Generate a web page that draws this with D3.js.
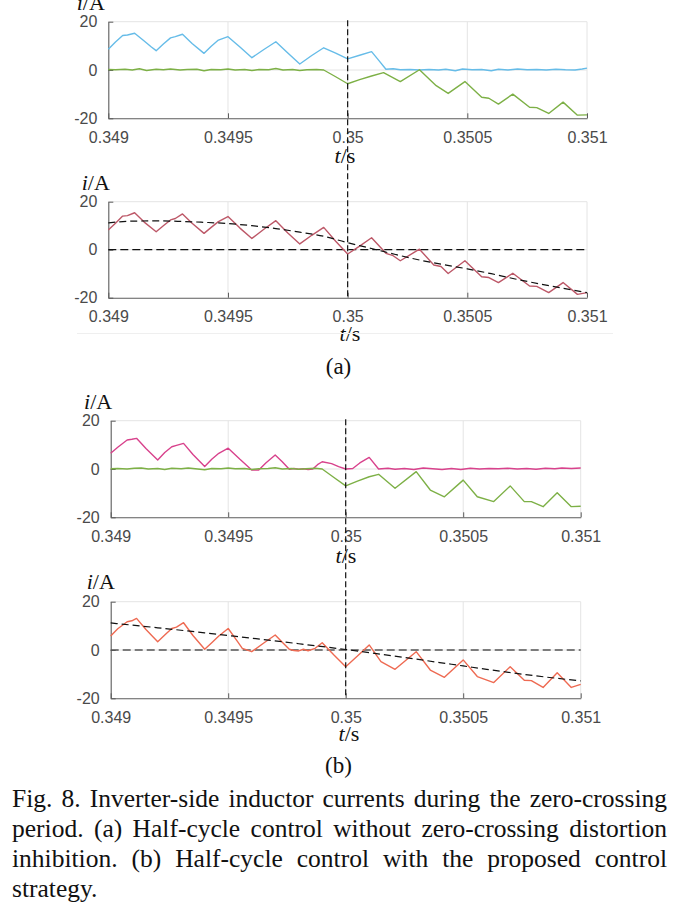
<!DOCTYPE html>
<html>
<head>
<meta charset="utf-8">
<script src="https://cdn.jsdelivr.net/npm/d3@7"></script>
<style>
html,body{margin:0;padding:0;background:#fff;}
svg{display:block;}
</style>
</head>
<body>
<svg id="chart" width="685" height="911"></svg>
<script>
// ---------- data ----------
const xTicks = [0.349, 0.3495, 0.35, 0.3505, 0.351];
const xTickLabels = ["0.349", "0.3495", "0.35", "0.3505", "0.351"];
const yTicks = [-20, 0, 20];
const yTickLabels = ["-20", "0", "20"];
const xDomain = [0.349, 0.351];
const yDomain = [-20, 20];
const zeroCrossT = 0.35;

// (a) upper: two currents [t (s), i (A)]
const aUpperBlue = [[0.34900,8.6],[0.34903,11.6],[0.34906,14.3],[0.34908,14.5],[0.34911,15.2],[0.34915,12.0],[0.34918,9.5],[0.34920,8.0],[0.34923,10.8],[0.34926,13.3],[0.34928,13.8],[0.34931,14.8],[0.34935,11.0],[0.34940,6.9],[0.34943,9.8],[0.34946,12.4],[0.34950,13.8],[0.34955,9.5],[0.34960,5.1],[0.34965,8.5],[0.34970,11.7],[0.34975,7.0],[0.34980,2.5],[0.34985,6.0],[0.34990,9.2],[0.34995,7.0],[0.35000,4.6],[0.35005,6.1],[0.35010,7.6],[0.35013,4.0],[0.35016,0.3],[0.35019,0.5],[0.35022,0.1],[0.35026,0.2],[0.35030,0.0],[0.35034,0.2],[0.35038,0.0],[0.35041,0.3],[0.35045,-0.3],[0.35048,0.4],[0.35052,0.1],[0.35056,0.2],[0.35060,-0.3],[0.35063,0.3],[0.35067,0.0],[0.35071,0.4],[0.35075,0.1],[0.35079,0.2],[0.35083,0.0],[0.35087,0.3],[0.35091,0.1],[0.35095,0.0],[0.35098,0.4],[0.35100,0.8]];
const aUpperGreen = [[0.34900,0.2],[0.34903,0.1],[0.34907,0.3],[0.34910,0.0],[0.34913,0.5],[0.34916,-0.2],[0.34920,0.3],[0.34923,0.1],[0.34926,0.4],[0.34930,0.0],[0.34933,0.2],[0.34937,0.3],[0.34940,-0.3],[0.34943,0.2],[0.34947,0.1],[0.34950,0.4],[0.34953,0.0],[0.34957,0.2],[0.34960,-0.2],[0.34963,0.2],[0.34967,0.1],[0.34970,0.6],[0.34973,0.0],[0.34977,0.2],[0.34980,-0.2],[0.34983,0.1],[0.34987,0.2],[0.34990,0.0],[0.34995,-2.8],[0.35000,-5.7],[0.35005,-4.0],[0.35010,-2.5],[0.35015,-1.1],[0.35022,-4.8],[0.35030,0.1],[0.35037,-6.5],[0.35042,-9.7],[0.35049,-4.8],[0.35056,-11.3],[0.35059,-11.7],[0.35063,-14.1],[0.35069,-10.0],[0.35076,-15.4],[0.35079,-15.6],[0.35084,-18.0],[0.35090,-13.3],[0.35096,-18.7],[0.35100,-18.6]];

// (a) lower: total current and its fundamental
const aLowerRed = [[0.34900,8.2],[0.34903,11.0],[0.34906,14.0],[0.34908,14.2],[0.34911,15.4],[0.34915,11.5],[0.34920,7.5],[0.34923,10.0],[0.34926,12.4],[0.34928,13.0],[0.34931,14.9],[0.34935,11.0],[0.34940,6.8],[0.34943,9.3],[0.34946,11.7],[0.34950,13.8],[0.34955,9.0],[0.34960,4.7],[0.34965,8.5],[0.34970,12.1],[0.34975,7.0],[0.34980,2.4],[0.34985,6.0],[0.34990,9.3],[0.34995,3.5],[0.35000,-1.8],[0.35005,1.5],[0.35010,5.0],[0.35016,-1.5],[0.35019,-2.5],[0.35022,-4.6],[0.35030,0.2],[0.35036,-6.4],[0.35039,-7.0],[0.35042,-9.9],[0.35049,-4.6],[0.35056,-11.3],[0.35059,-11.6],[0.35063,-13.7],[0.35069,-9.8],[0.35076,-15.1],[0.35079,-15.3],[0.35084,-17.9],[0.35090,-13.7],[0.35096,-18.6],[0.35100,-17.9]];
const aLowerRef = [[0.34900,11.2],[0.34910,11.9],[0.34920,12.0],[0.34930,11.8],[0.34940,11.4],[0.34950,10.9],[0.34960,10.0],[0.34970,8.8],[0.34980,7.3],[0.34990,5.6],[0.35000,2.9],[0.35010,0.5],[0.35020,-2.0],[0.35030,-4.3],[0.35040,-6.2],[0.35050,-8.0],[0.35060,-10.0],[0.35070,-12.2],[0.35080,-14.2],[0.35090,-16.1],[0.35100,-17.9]];

// (b) upper: two currents
const bUpperPink = [[0.34900,6.5],[0.34903,9.0],[0.34907,12.0],[0.34909,12.3],[0.34911,12.7],[0.34915,8.5],[0.34920,3.7],[0.34923,6.8],[0.34926,9.2],[0.34928,9.8],[0.34931,10.6],[0.34935,6.0],[0.34940,1.0],[0.34943,4.0],[0.34946,6.5],[0.34950,8.6],[0.34955,4.0],[0.34960,-0.4],[0.34963,-0.4],[0.34966,2.5],[0.34970,5.8],[0.34973,3.0],[0.34976,-0.1],[0.34978,0.2],[0.34980,-0.1],[0.34982,0.1],[0.34984,-0.2],[0.34986,0.0],[0.34988,1.8],[0.34990,3.0],[0.34994,2.2],[0.34997,1.0],[0.35000,0.0],[0.35003,0.2],[0.35006,2.5],[0.35010,4.8],[0.35014,0.0],[0.35018,0.3],[0.35021,-0.1],[0.35025,0.2],[0.35029,-0.2],[0.35033,0.4],[0.35037,0.1],[0.35041,-0.2],[0.35045,0.2],[0.35049,-0.2],[0.35053,0.3],[0.35057,0.0],[0.35061,0.2],[0.35065,0.1],[0.35069,0.3],[0.35073,0.0],[0.35077,0.2],[0.35081,-0.1],[0.35085,0.3],[0.35089,0.1],[0.35092,0.4],[0.35096,0.2],[0.35100,0.4]];
const bUpperGreen = [[0.34900,0.1],[0.34903,0.2],[0.34907,0.0],[0.34910,0.3],[0.34913,0.4],[0.34916,0.0],[0.34920,0.2],[0.34923,-0.2],[0.34926,0.3],[0.34930,0.1],[0.34933,0.4],[0.34937,0.0],[0.34940,-0.3],[0.34943,0.2],[0.34947,0.1],[0.34950,0.4],[0.34953,0.1],[0.34957,0.2],[0.34960,-0.2],[0.34963,0.1],[0.34967,0.2],[0.34970,0.5],[0.34973,0.0],[0.34977,0.2],[0.34980,-0.1],[0.34983,0.1],[0.34987,0.3],[0.34990,0.0],[0.34995,-3.5],[0.35000,-7.0],[0.35005,-5.0],[0.35010,-3.2],[0.35014,-2.2],[0.35021,-8.0],[0.35030,-1.1],[0.35036,-8.7],[0.35042,-11.5],[0.35050,-4.6],[0.35056,-11.5],[0.35063,-13.5],[0.35070,-7.0],[0.35076,-13.5],[0.35079,-13.5],[0.35084,-15.6],[0.35090,-9.8],[0.35096,-15.6],[0.35100,-15.4]];

// (b) lower: total current and its fundamental
const bLowerOrange = [[0.34900,5.8],[0.34903,8.8],[0.34907,11.7],[0.34909,12.1],[0.34911,13.1],[0.34915,8.5],[0.34920,3.4],[0.34923,6.2],[0.34926,8.9],[0.34928,9.5],[0.34931,11.3],[0.34935,6.0],[0.34940,0.3],[0.34943,3.0],[0.34946,5.8],[0.34950,8.9],[0.34954,3.5],[0.34956,0.7],[0.34960,-0.7],[0.34965,2.8],[0.34970,6.2],[0.34973,3.2],[0.34976,0.3],[0.34978,-0.2],[0.34980,-0.4],[0.34982,0.3],[0.34984,-0.3],[0.34987,0.7],[0.34990,3.0],[0.34995,-2.1],[0.35000,-6.9],[0.35005,-2.5],[0.35010,2.1],[0.35015,-4.8],[0.35021,-8.0],[0.35030,-0.7],[0.35036,-8.3],[0.35042,-11.3],[0.35050,-4.1],[0.35056,-11.0],[0.35063,-13.5],[0.35070,-6.9],[0.35076,-12.5],[0.35079,-12.7],[0.35084,-15.5],[0.35090,-9.4],[0.35096,-15.5],[0.35100,-14.2]];
const bLowerRef = [[0.34900,11.2],[0.34920,9.2],[0.34940,7.1],[0.34950,6.0],[0.34960,4.9],[0.34980,2.6],[0.35000,0.2],[0.35020,-2.4],[0.35040,-5.2],[0.35050,-6.6],[0.35060,-8.0],[0.35080,-10.6],[0.35100,-12.8]];

const subLabels = ["(a)", "(b)"];
const captionLines = [
  "Fig. 8. Inverter-side inductor currents during the zero-crossing",
  "period. (a) Half-cycle control without zero-crossing distortion",
  "inhibition. (b) Half-cycle control with the proposed control",
  "strategy."
];

// ---------- drawing ----------
const svg = d3.select("#chart");
svg.append("rect").attr("width", 685).attr("height", 911).attr("fill", "#fff");

const AXIS = "#5b5b5b", GRID = "#e4e4e4", TICKTXT = "#4a4a4a";
const SANS = "'Liberation Sans', Arial, sans-serif";
const SERIF = "'Liberation Serif', 'Times New Roman', serif";

const panels = [
  {l:108.3, r:587, t:21.7, b:118.3, iA:[76.7,10], ts:[345,162.5],
   series:[{d:aUpperBlue, c:"#66bce8"}, {d:aUpperGreen, c:"#7db046"}], zeroDash:null},
  {l:108.3, r:587, t:201.7, b:297.7, iA:[81.7,190], ts:[350,341],
   series:[{d:aLowerRed, c:"#bd5868"}], ref:aLowerRef, zeroDash:"#111"},
  {l:110.7, r:580.7, t:420.7, b:517.3, iA:[84,409], ts:[346,562.5],
   series:[{d:bUpperPink, c:"#d8428c"}, {d:bUpperGreen, c:"#7db046"}], zeroDash:null},
  {l:110.7, r:580.7, t:601.7, b:698.3, iA:[86.7,589], ts:[349,741],
   series:[{d:bLowerOrange, c:"#ee6a52"}], ref:bLowerRef, zeroDash:"#555"}
];

panels.forEach(p => {
  const x = d3.scaleLinear().domain(xDomain).range([p.l, p.r]);
  const y = d3.scaleLinear().domain(yDomain).range([p.b, p.t]);
  p.x = x; p.y = y;
  const g = svg.append("g");

  // grid
  g.selectAll(".vg").data(xTicks.slice(1)).join("line")
    .attr("x1", d => x(d)).attr("x2", d => x(d)).attr("y1", p.t).attr("y2", p.b)
    .attr("stroke", GRID).attr("stroke-width", 1);
  g.selectAll(".hg").data(yTicks.slice(1)).join("line")
    .attr("x1", p.l).attr("x2", p.r).attr("y1", d => y(d)).attr("y2", d => y(d))
    .attr("stroke", GRID).attr("stroke-width", 1);

  // axes
  const xAxis = d3.axisBottom(x).tickValues(xTicks).tickFormat((d,i) => xTickLabels[i])
    .tickSizeInner(-5).tickSizeOuter(0).tickPadding(13);
  const yAxis = d3.axisLeft(y).tickValues(yTicks).tickFormat((d,i) => yTickLabels[i])
    .tickSizeInner(-5).tickSizeOuter(0).tickPadding(11);
  const gx = g.append("g").attr("transform", `translate(0,${p.b})`).call(xAxis);
  const gy = g.append("g").attr("transform", `translate(${p.l},0)`).call(yAxis);
  [gx, gy].forEach(a => {
    a.select(".domain").attr("stroke", AXIS).attr("stroke-width", 1.1);
    a.selectAll(".tick line").attr("stroke", AXIS).attr("stroke-width", 1);
    a.selectAll(".tick text").attr("fill", TICKTXT).attr("font-family", SANS).attr("font-size", 16);
  });

  const line = d3.line().x(d => x(d[0])).y(d => y(d[1]));

  if (p.zeroDash) {
    g.append("line").attr("x1", p.l).attr("x2", p.r).attr("y1", y(0)).attr("y2", y(0))
      .attr("stroke", p.zeroDash).attr("stroke-width", 1.3).attr("stroke-dasharray", "8,4");
  }
  p.series.forEach(s => {
    g.append("path").datum(s.d).attr("d", line).attr("fill", "none")
      .attr("stroke", s.c).attr("stroke-width", 1.4).attr("stroke-linejoin", "round");
  });
  if (p.ref) {
    g.append("path").datum(p.ref).attr("d", line.curve(d3.curveMonotoneX)).attr("fill", "none")
      .attr("stroke", "#111").attr("stroke-width", 1.2).attr("stroke-dasharray", "7,4");
  }

  // axis labels
  const ia = g.append("text").attr("x", p.iA[0]).attr("y", p.iA[1])
    .attr("font-family", SERIF).attr("font-size", 22).attr("fill", "#111");
  ia.append("tspan").attr("font-style", "italic").text("i");
  ia.append("tspan").text("/A");
  const ts = g.append("text").attr("x", p.ts[0]).attr("y", p.ts[1]).attr("text-anchor", "middle")
    .attr("font-family", SERIF).attr("font-size", 22).attr("fill", "#111");
  ts.append("tspan").attr("font-style", "italic").text("t");
  ts.append("tspan").text("/s");
});

// zero-crossing vertical dashed markers spanning each figure pair
[[panels[0], panels[1]], [panels[2], panels[3]]].forEach(([pu, pl]) => {
  svg.append("line").attr("x1", pu.x(zeroCrossT)).attr("x2", pu.x(zeroCrossT))
    .attr("y1", pu.t - 1.5).attr("y2", pl.b)
    .attr("stroke", "#111").attr("stroke-width", 1.2).attr("stroke-dasharray", "6,3");
});

// faint frame line under (a) lower plot
svg.append("line").attr("x1", 77).attr("x2", 613).attr("y1", 333.5).attr("y2", 333.5)
  .attr("stroke", "#efefef").attr("stroke-width", 1);

// sub-figure labels
[[338.5, 374], [338.5, 773]].forEach((pos, i) => {
  svg.append("text").attr("x", pos[0]).attr("y", pos[1]).attr("text-anchor", "middle")
    .attr("font-family", SERIF).attr("font-size", 23).attr("fill", "#111").text(subLabels[i]);
});

// caption (justified word by word)
const capLeft = 12, capRight = 667, capBase = [806.5, 836.5, 866.5, 896.5];
captionLines.forEach((ln, li) => {
  const words = ln.split(" ");
  const gtxt = svg.append("g");
  const nodes = words.map(w => gtxt.append("text").attr("y", capBase[li])
    .attr("font-family", SERIF).attr("font-size", 25.5).attr("fill", "#111").text(w));
  const widths = nodes.map(n => n.node().getComputedTextLength());
  const total = d3.sum(widths);
  const last = li === captionLines.length - 1;
  const gap = (last || words.length < 2) ? 6 : (capRight - capLeft - total) / (words.length - 1);
  let cx = capLeft;
  nodes.forEach((n, k) => { n.attr("x", cx); cx += widths[k] + gap; });
});
</script>
</body>
</html>
